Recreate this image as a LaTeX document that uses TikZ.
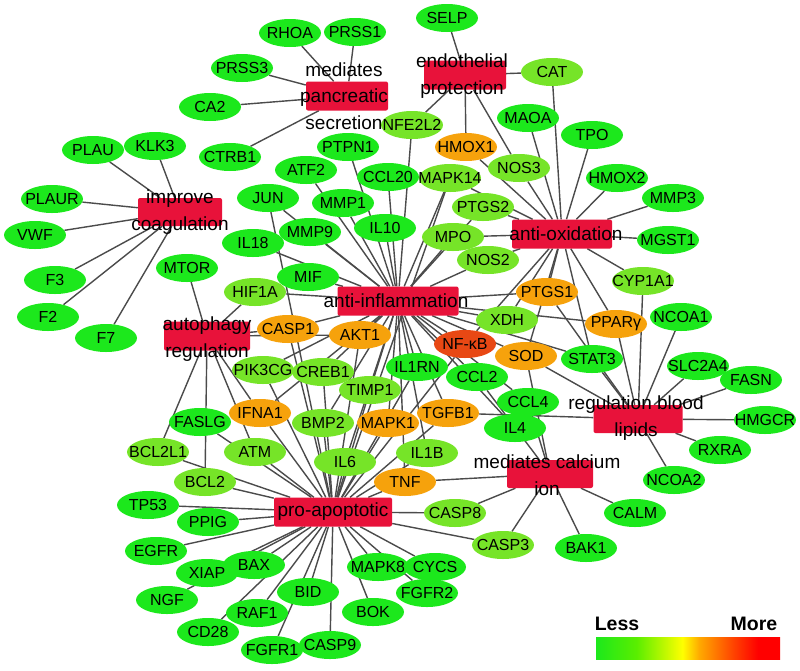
\documentclass[tikz,border=0pt]{standalone}
\usepackage{fontspec}
\setmainfont{Liberation Sans}
\usetikzlibrary{shapes.geometric}
\definecolor{gA}{RGB}{28,232,28}
\definecolor{gB}{RGB}{118,228,40}
\definecolor{gO}{RGB}{246,162,12}
\definecolor{gR}{RGB}{232,72,20}
\definecolor{hubred}{RGB}{232,18,58}
\definecolor{edgecol}{RGB}{75,75,75}
\pgfdeclarelayer{bg}
\pgfsetlayers{bg,main}
\pgfdeclarehorizontalshading{legshade}{100bp}{color(0bp)=(gA); color(25bp)=(gA); color(36bp)=(rgb,255:red,90;green,238;blue,0); color(48.5bp)=(rgb,255:red,255;green,255;blue,0); color(53bp)=(rgb,255:red,255;green,170;blue,0); color(62bp)=(rgb,255:red,255;green,70;blue,0); color(69bp)=(rgb,255:red,255;green,0;blue,0); color(75bp)=(rgb,255:red,255;green,0;blue,0); color(100bp)=(rgb,255:red,255;green,0;blue,0)}
\tikzset{
  gene/.style={ellipse, minimum width=62pt, minimum height=28pt, inner sep=0pt, draw=none, font=\fontsize{16}{18}\selectfont},
  hubbox/.style={rectangle, rounded corners=2pt, fill=hubred, inner sep=0pt},
  hubtext/.style={align=center, inner sep=0pt, font=\fontsize{19}{26.5}\selectfont},
  edge/.style={draw=edgecol, line width=1.4pt},
  legtext/.style={font=\fontsize{19.5}{22}\selectfont\bfseries, inner sep=0pt}
}
\newcommand\gnode[4]{\node[gene, fill=#1] (#2) at (#3) {\makebox[0pt]{#4}};}
\begin{document}
\begin{tikzpicture}[x=1pt,y=-1pt]
\useasboundingbox (0,0) rectangle (800,670);
% hubs
\node[hubbox, minimum width=82pt, minimum height=29pt] (panc) at (347,96) {};
\node[hubbox, minimum width=82pt, minimum height=29pt] (endo) at (465,75) {};
\node[hubbox, minimum width=84pt, minimum height=28pt] (coag) at (180,212) {};
\node[hubbox, minimum width=100pt, minimum height=29pt] (antiox) at (562,234) {};
\node[hubbox, minimum width=121pt, minimum height=29pt] (antiinf) at (398,301) {};
\node[hubbox, minimum width=86pt, minimum height=29pt] (auto) at (207,336) {};
\node[hubbox, minimum width=89pt, minimum height=28pt] (lipid) at (638,419) {};
\node[hubbox, minimum width=86pt, minimum height=28pt] (calc) at (550,474) {};
\node[hubbox, minimum width=118pt, minimum height=29pt] (apop) at (333,512) {};
% genes
\gnode{gA}{RHOA}{290,33}{RHOA}
\gnode{gA}{PRSS1}{355,32}{PRSS1}
\gnode{gA}{PRSS3}{242,68}{PRSS3}
\gnode{gA}{CA2}{210,107}{CA2}
\gnode{gA}{CTRB1}{230,157}{CTRB1}
\gnode{gA}{SELP}{447,18}{SELP}
\gnode{gB}{CAT}{552,72}{CAT}
\gnode{gA}{PLAU}{93,150}{PLAU}
\gnode{gA}{KLK3}{155,146}{KLK3}
\gnode{gA}{PLAUR}{52,199}{PLAUR}
\gnode{gA}{VWF}{35,235}{VWF}
\gnode{gA}{F3}{55,280}{F3}
\gnode{gA}{F2}{48,317}{F2}
\gnode{gA}{F7}{106,338}{F7}
\gnode{gB}{NFE2L2}{412,125}{NFE2L2}
\gnode{gA}{PTPN1}{348,147}{PTPN1}
\gnode{gO}{HMOX1}{466,147}{HMOX1}
\gnode{gA}{MAOA}{528,118}{MAOA}
\gnode{gA}{TPO}{592,135}{TPO}
\gnode{gA}{ATF2}{306,170}{ATF2}
\gnode{gA}{CCL20}{388,177}{CCL20}
\gnode{gB}{MAPK14}{450,178}{MAPK14}
\gnode{gB}{NOS3}{519,168}{NOS3}
\gnode{gA}{HMOX2}{617,178}{HMOX2}
\gnode{gA}{MMP3}{673,198}{MMP3}
\gnode{gA}{JUN}{268,198}{JUN}
\gnode{gA}{MMP1}{343,203}{MMP1}
\gnode{gB}{PTGS2}{483,207}{PTGS2}
\gnode{gA}{IL10}{385,228}{IL10}
\gnode{gA}{MMP9}{310,232}{MMP9}
\gnode{gB}{MPO}{453,237}{MPO}
\gnode{gA}{MGST1}{668,240}{MGST1}
\gnode{gA}{IL18}{253,243}{IL18}
\gnode{gB}{NOS2}{488,260}{NOS2}
\gnode{gA}{MTOR}{187,268}{MTOR}
\gnode{gA}{MIF}{308,277}{MIF}
\gnode{gB}{CYP1A1}{643,281}{CYP1A1}
\gnode{gB}{HIF1A}{255,292}{HIF1A}
\gnode{gO}{PTGS1}{547,292}{PTGS1}
\gnode{gA}{NCOA1}{681,317}{NCOA1}
\gnode{gB}{XDH}{507,320}{XDH}
\gnode{gO}{PPARG}{616,324}{PPARγ}
\gnode{gO}{CASP1}{288,329}{CASP1}
\gnode{gO}{AKT1}{360,335}{AKT1}
\gnode{gR}{NFKB}{465,344}{NF-κB}
\gnode{gO}{SOD}{526,356}{SOD}
\gnode{gA}{STAT3}{592,359}{STAT3}
\gnode{gA}{SLC2A4}{698,366}{SLC2A4}
\gnode{gA}{IL1RN}{417,367}{IL1RN}
\gnode{gB}{PIK3CG}{263,370}{PIK3CG}
\gnode{gB}{CREB1}{323,372}{CREB1}
\gnode{gA}{CCL2}{477,377}{CCL2}
\gnode{gA}{FASN}{751,380}{FASN}
\gnode{gB}{TIMP1}{370,390}{TIMP1}
\gnode{gA}{CCL4}{528,402}{CCL4}
\gnode{gO}{IFNA1}{260,413}{IFNA1}
\gnode{gO}{TGFB1}{448,413}{TGFB1}
\gnode{gA}{FASLG}{200,422}{FASLG}
\gnode{gB}{BMP2}{323,423}{BMP2}
\gnode{gO}{MAPK1}{388,423}{MAPK1}
\gnode{gA}{IL4}{515,428}{IL4}
\gnode{gA}{HMGCR}{765,420}{HMGCR}
\gnode{gA}{RXRA}{720,450}{RXRA}
\gnode{gB}{BCL2L1}{158,452}{BCL2L1}
\gnode{gB}{ATM}{255,452}{ATM}
\gnode{gB}{IL1B}{427,453}{IL1B}
\gnode{gB}{IL6}{345,462}{IL6}
\gnode{gA}{NCOA2}{674,480}{NCOA2}
\gnode{gB}{BCL2}{205,482}{BCL2}
\gnode{gO}{TNF}{405,482}{TNF}
\gnode{gA}{TP53}{148,505}{TP53}
\gnode{gB}{CASP8}{455,513}{CASP8}
\gnode{gA}{CALM}{635,513}{CALM}
\gnode{gA}{PPIG}{208,522}{PPIG}
\gnode{gB}{CASP3}{503,545}{CASP3}
\gnode{gA}{BAK1}{586,548}{BAK1}
\gnode{gA}{EGFR}{156,551}{EGFR}
\gnode{gA}{BAX}{254,565}{BAX}
\gnode{gA}{MAPK8}{378,567}{MAPK8}
\gnode{gA}{CYCS}{435,567}{CYCS}
\gnode{gA}{XIAP}{207,573}{XIAP}
\gnode{gA}{BID}{308,592}{BID}
\gnode{gA}{FGFR2}{427,593}{FGFR2}
\gnode{gA}{NGF}{167,600}{NGF}
\gnode{gA}{BOK}{373,612}{BOK}
\gnode{gA}{RAF1}{257,613}{RAF1}
\gnode{gA}{CD28}{208,632}{CD28}
\gnode{gA}{CASP9}{330,645}{CASP9}
\gnode{gA}{FGFR1}{272,650}{FGFR1}
% edges
\begin{pgfonlayer}{bg}
\foreach \n in {RHOA,PRSS1,PRSS3,CA2,CTRB1} \draw[edge] (panc) -- (\n);
\foreach \n in {SELP,CAT,NFE2L2,HMOX1,NOS3} \draw[edge] (endo) -- (\n);
\foreach \n in {PLAU,KLK3,PLAUR,VWF,F3,F2,F7} \draw[edge] (coag) -- (\n);
\foreach \n in {CAT,MAOA,TPO,HMOX2,MMP3,MGST1,CYP1A1,PPARG,PTGS1,SOD,XDH,NOS2,MPO,PTGS2,MAPK14,HMOX1,NOS3,STAT3,NFKB} \draw[edge] (antiox) -- (\n);
\foreach \n in {IL18,MIF,MMP9,JUN,ATF2,PTPN1,CCL20,MMP1,IL10,NFE2L2,MAPK14,MPO,NOS2,PTGS2,HIF1A,CASP1,AKT1,PTGS1,XDH,NFKB,SOD,STAT3,PPARG,CCL2,CCL4,IL1RN,TGFB1,IL4,TIMP1,CREB1,MAPK1,IL1B,BMP2,IFNA1,PIK3CG,IL6,TNF} \draw[edge] (antiinf) -- (\n);
\foreach \n in {MTOR,HIF1A,CASP1,AKT1,BCL2,BCL2L1,IFNA1,ATM} \draw[edge] (auto) -- (\n);
\foreach \n in {CYP1A1,NCOA1,PPARG,STAT3,SLC2A4,FASN,HMGCR,RXRA,NCOA2,TGFB1,SOD,PTGS1} \draw[edge] (lipid) -- (\n);
\foreach \n in {TNF,CASP8,CASP3,BAK1,CALM,CCL4,SOD,CCL2} \draw[edge] (calc) -- (\n);
\foreach \n in {BCL2L1,FASLG,ATM,IL6,BCL2,TP53,PPIG,EGFR,BAX,XIAP,NGF,BID,RAF1,CD28,FGFR1,CASP9,MAPK8,BOK,CYCS,FGFR2,CASP8,CASP3,TNF,IL1B,MAPK1,BMP2,IFNA1,TIMP1,CREB1,AKT1,CASP1,PIK3CG,TGFB1,IL1RN,NFKB,MAPK14,JUN} \draw[edge] (apop) -- (\n);
\end{pgfonlayer}
% hub texts
\node[hubtext] (pancT) at (344,96) {mediates\\pancreatic\\secretion};
\node[hubtext] (endoT) at (462,76) {endothelial\\protection};
\node[hubtext] (coagT) at (180,212) {improve\\coagulation};
\node[hubtext] (antioxT) at (566,234) {anti-oxidation};
\node[hubtext] (antiinfT) at (396,301) {anti-inflammation};
\node[hubtext] (autoT) at (207,339) {autophagy\\regulation};
\node[hubtext] (lipidT) at (636,418) {regulation blood\\lipids};
\node[hubtext] (calcT) at (547,475) {mediates calcium\\ion};
\node[hubtext] (apopT) at (333,512) {pro-apoptotic};
% legend
\node[legtext] (less) at (617,624) {Less};
\node[legtext] (more) at (754,624) {More};
\path[shading=legshade] (596,637) rectangle (780,659);
\end{tikzpicture}
\end{document}
